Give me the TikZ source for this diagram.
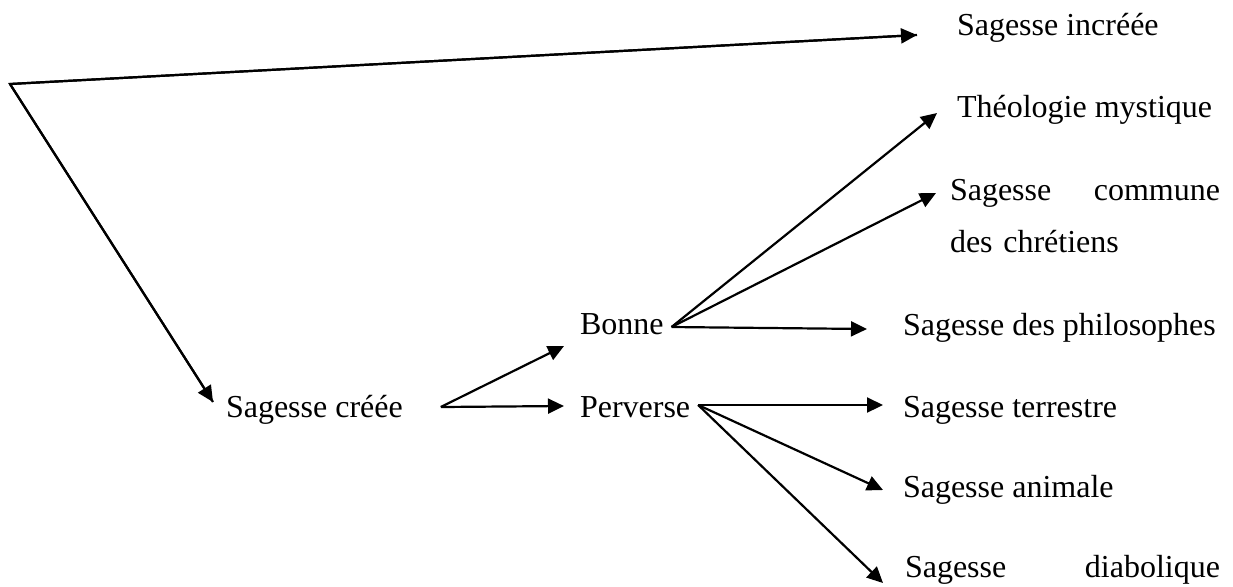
\documentclass[tikz,border=0pt]{standalone}
\usepackage{fontspec}
\setmainfont{Liberation Serif}
\usetikzlibrary{arrows.meta,calc}
\tikzset{
  lbl/.style={anchor=base west, inner sep=0pt, outer sep=0pt, font=\fontsize{16}{26}\selectfont},
  arr/.style={line width=1.1pt, -{Triangle[length=8pt,width=7.5pt]}},
}
\begin{document}
\begin{tikzpicture}[x=0.5pt,y=-0.5pt]
\useasboundingbox (0,0) rectangle (1233,586);
% labels
\node[lbl] (incr)  at (957,35)  {Sagesse incréée};
\node[lbl] (theo)  at (957,117) {Théologie mystique};
\node[lbl, text width=135pt, align=left] (com) at (950,200) {Sagesse\hfill commune\\des chrétiens};
\node[lbl] (philo) at (903,335) {Sagesse des philosophes};
\node[lbl] (bonne) at (580,334) {Bonne};
\node[lbl] (creee) at (226,417) {Sagesse créée};
\node[lbl] (perv)  at (580,417) {Perverse};
\node[lbl] (terr)  at (903,417) {Sagesse terrestre};
\node[lbl] (anim)  at (903,497) {Sagesse animale};
\node[lbl, text width=157.5pt, align=left] (diab) at (905,577) {Sagesse\hfill diabolique};
% branching points
\coordinate (apex) at (10,84);
\coordinate (cs) at ($(creee.base east)+(38,-10)$);
\coordinate (bs) at ($(bonne.base east)+(8,-7)$);
\coordinate (ps) at ($(perv.base east)+(8,-12)$);
% connectors
\draw[line width=1.1pt, line join=miter] ($(incr.base west)+(-40,0)$) -- (apex) -- ($(creee.base west)+(-13,-15)$);
\draw[arr] (apex) -- ($(incr.base west)+(-40,0)$);
\draw[arr] (apex) -- ($(creee.base west)+(-13,-15)$);
\draw[arr] (cs) -- ($(bonne.base west)+(-16,12)$);
\draw[arr] (cs) -- ($(perv.base west)+(-16,-11)$);
\draw[arr] (bs) -- ($(theo.base west)+(-20,-4)$);
\draw[arr] (bs) -- ($(com.base west)+(-14,-7)$);
\draw[arr] (bs) -- ($(philo.base west)+(-36,-6)$);
\draw[arr] (ps) -- ($(terr.base west)+(-20,-12)$);
\draw[arr] (ps) -- ($(anim.base west)+(-20,-7)$);
\draw[arr] (ps) -- ($(diab.base west)+(-22,6)$);
\end{tikzpicture}
\end{document}
